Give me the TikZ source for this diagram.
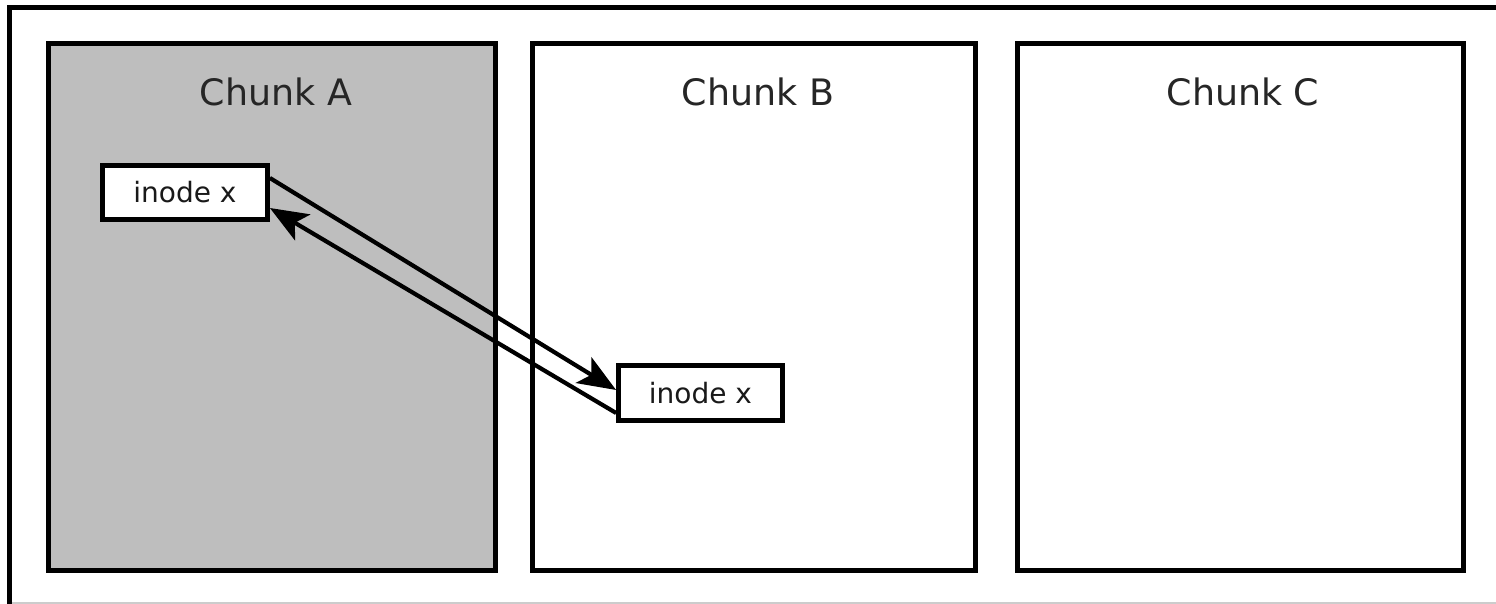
\documentclass[tikz,border=0pt]{standalone}
\usepackage{fontspec}
\setmainfont{DejaVu Sans}
\usetikzlibrary{arrows.meta}
\definecolor{chunkgray}{HTML}{BEBEBE}
\tikzset{
  chunk/.style={draw=black, line width=2.5pt, rectangle, inner sep=0pt, outer sep=0pt},
  chunklabel/.style={font=\fontsize{18.2}{20}\selectfont, text=black!85, inner sep=0pt},
  inodebox/.style={draw=black, line width=2.5pt, fill=white, rectangle, inner sep=0pt, outer sep=1.2pt,
    font=\fontsize{14}{16}\selectfont, text=black!90},
  link/.style={line width=2.1pt, -{Stealth[length=19pt,width=15pt,inset=4.5pt]}},
}
\begin{document}
\begin{tikzpicture}[x=0.5pt, y=-0.5pt]
\useasboundingbox (0,0) rectangle (1496,604);
\begin{scope}
\clip (0,0) rectangle (1496,604);
\fill[white] (0,0) rectangle (1496,604);
\draw[line width=2.5pt] (9.5,7.5) rectangle (1520,640);
\draw[black!20, line width=0.6pt] (12,603) -- (1496,603);
\end{scope}
% chunks
\node[chunk, fill=chunkgray, minimum width=223.5pt, minimum height=263.5pt] (ca) at (271.5,307.5) {};
\node[chunk, fill=white, minimum width=221.5pt, minimum height=263.5pt] (cb) at (754,307.5) {};
\node[chunk, fill=white, minimum width=223pt, minimum height=263.5pt] (cc) at (1240,307.5) {};
\node[chunklabel] (la) at (276,92) {Chunk A};
\node[chunklabel] (lb) at (758,92) {Chunk B};
\node[chunklabel] (lc) at (1243,92) {Chunk C};
% inodes
\node[inodebox, minimum width=82.5pt, minimum height=27pt] (ia) at (185,192.5) {inode x};
\node[inodebox, minimum width=82pt, minimum height=27.5pt] (ib) at (700.5,393) {inode x};
% links
\draw[link] ([yshift=7.25pt]ia.east) -- ([yshift=1.5pt]ib.west);
\draw[link] ([yshift=-10pt]ib.west) -- ([yshift=-7.75pt]ia.east);
\end{tikzpicture}
\end{document}
